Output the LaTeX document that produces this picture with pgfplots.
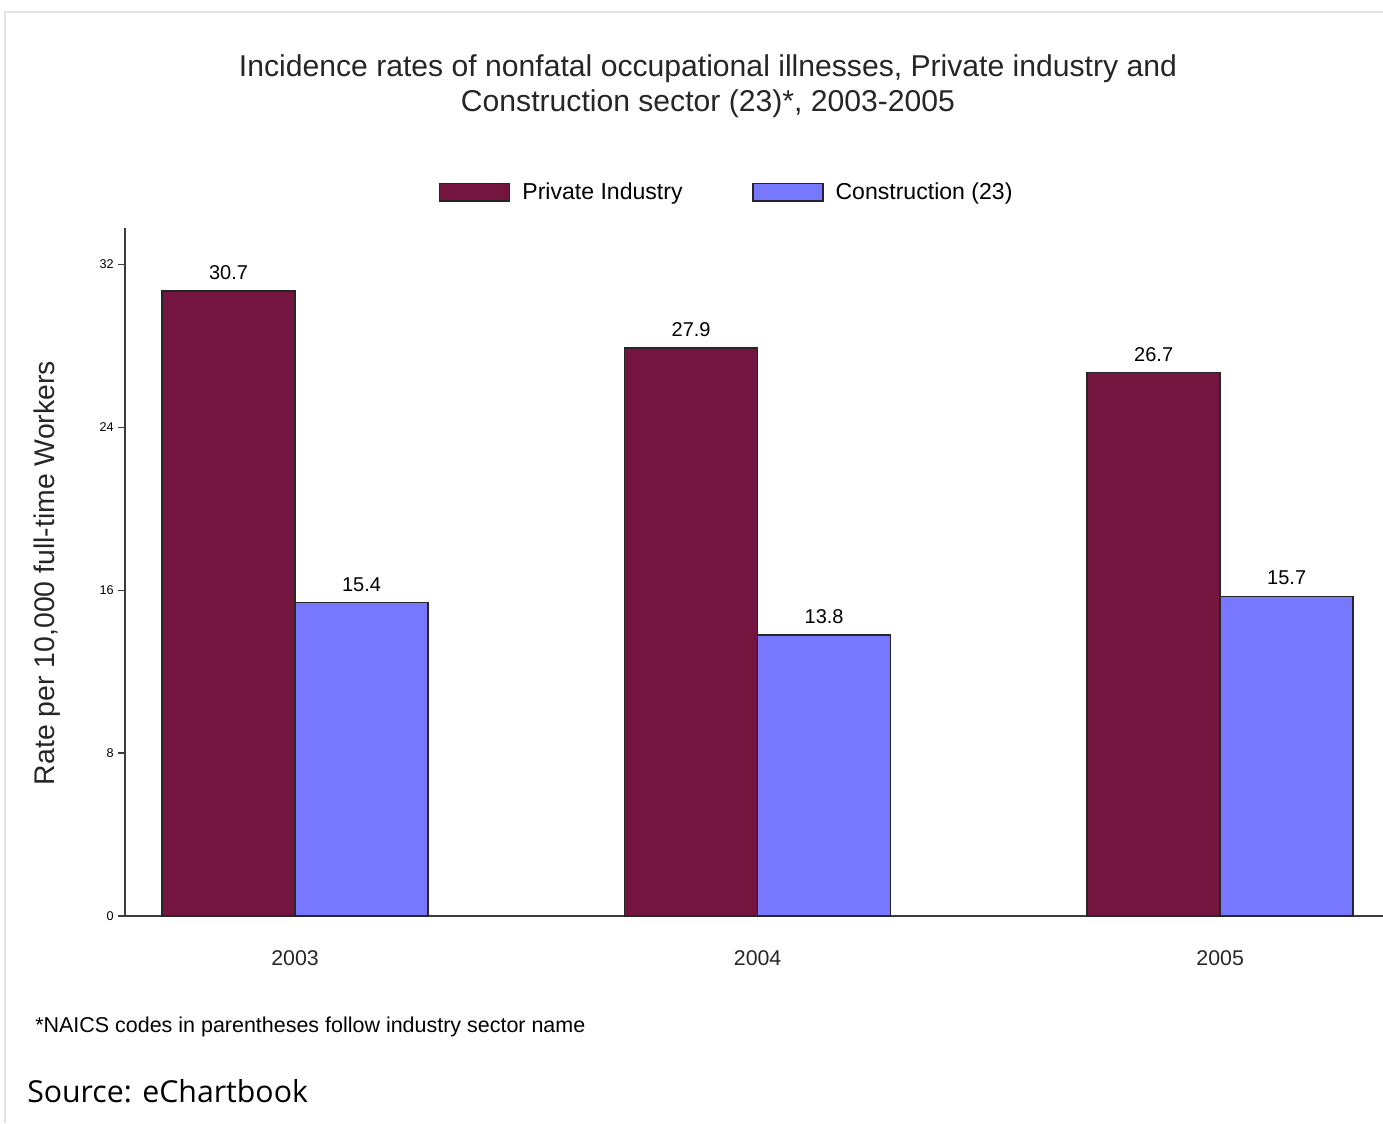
\documentclass[border=0pt]{standalone}
\usepackage{pgfplots}
\pgfplotsset{compat=1.18}
\usepackage{fontspec}
\setmainfont{Liberation Sans}
\newfontfamily\srcfont{Open Sans}
\definecolor{maroon}{RGB}{115,21,62}
\definecolor{lblue}{RGB}{119,119,255}
\definecolor{axgray}{RGB}{60,60,60}
\definecolor{framegray}{RGB}{225,225,225}
\pgfplotsset{/pgf/number format/assume math mode=true}
\begin{document}
\begin{tikzpicture}[x=0.75pt,y=0.75pt]
\path[use as bounding box] (0,0) rectangle (1383,1123);
\draw[framegray, line width=1.2pt] (5,0) -- (5,1111) -- (1383,1111);
\node[align=center, font=\fontsize{22.6}{26.3}\selectfont, text=black!85] at (708,1123-86)
  {Incidence rates of nonfatal occupational illnesses, Private industry and\\Construction sector (23)*, 2003-2005};
\node[rotate=90, font=\fontsize{21.3}{24}\selectfont, text=black!85] at (47,1123-573) {Rate per 10,000 full-time Workers};
\node[anchor=base west, inner sep=0pt, font=\fontsize{16.1}{19}\selectfont] at (35,1123-1033) {*NAICS codes in parentheses follow industry sector name};
\node[anchor=base west, font=\srcfont\fontsize{22.7}{26}\selectfont, inner sep=0pt] at (27,1123-1102) {Source: eChartbook};
\begin{axis}[
  at={(93.75pt,155.25pt)}, anchor=south west,
  scale only axis, width=943.5pt, height=516pt,
  xmin=-0.3676, xmax=2.352, ymin=0, ymax=33.8,
  axis x line=bottom, axis y line=left,
  axis line style={-, axgray, line width=1.3pt},
  xtick={0,1,2}, xticklabels={2003,2004,2005},
  x tick style={draw=none},
  ytick={0,8,16,24,32},
  y tick style={axgray, line width=1pt},
  major tick length=5pt, tick align=outside,
  yticklabel style={font=\fontsize{9.5}{11}\selectfont},
  xticklabel style={font=\fontsize{16}{19}\selectfont, text=black!85, anchor=base, yshift=-32.5pt},
  ybar, bar width=0.2876,
  nodes near coords,
  every node near coord/.append style={font=\fontsize{15}{18}\selectfont, yshift=4.5pt},
  legend columns=2,
  legend style={at={(0.4785,1.052)}, anchor=center, draw=none, fill=none,
    font=\fontsize{17.3}{20}\selectfont,
    /tikz/every odd column/.append style={column sep=7pt},
    /tikz/every even column/.append style={column sep=50pt}},
  legend image code/.code={\draw[#1, line width=1.2pt] (0pt,-6.4pt) rectangle (52.5pt,6.4pt);},
  clip=false,
]
\addplot[fill=maroon, draw=black!85, line width=1.2pt, bar shift=-0.1438] coordinates {(0,30.7) (1,27.9) (2,26.7)};
\addplot[fill=lblue, draw=black!85, line width=1.2pt, bar shift=0.1438] coordinates {(0,15.4) (1,13.8) (2,15.7)};
\legend{Private Industry, Construction (23)}
\end{axis}
\end{tikzpicture}
\end{document}
